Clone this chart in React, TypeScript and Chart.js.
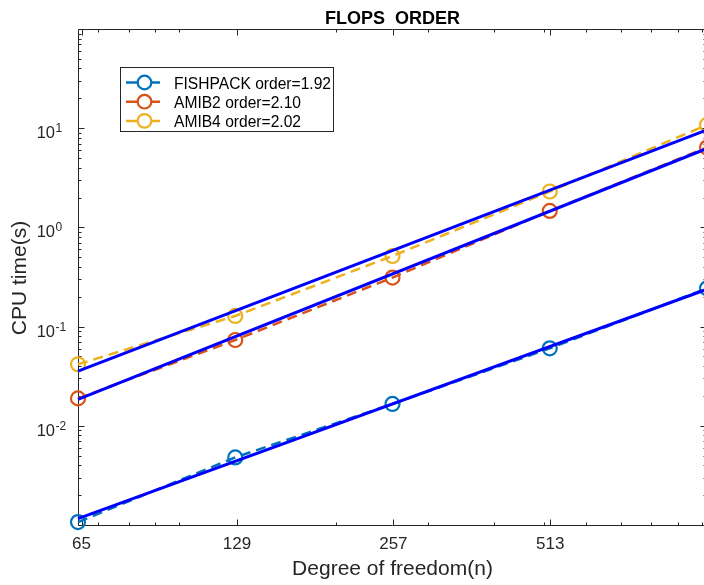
import React, { useEffect, useRef } from 'react';
import { Chart, registerables } from 'chart.js';

Chart.register(...registerables);

// ---- data ----
const nValues = [64, 128, 256, 512, 1024];
const fishpackTimes = [0.00107, 0.0048, 0.0166, 0.0604, 0.243];
const amib2Times = [0.0189, 0.0733, 0.312, 1.466, 6.38];
const amib4Times = [0.0417, 0.128, 0.515, 2.3, 10.8];

const fitN = [64, 1024];
const fishpackFit = [0.00116, 0.238];
const amib2Fit = [0.01845, 6.24];
const amib4Fit = [0.0356, 9.64];

const seriesNames = ['FISHPACK order=1.92', 'AMIB2 order=2.10', 'AMIB4 order=2.02'];
const seriesColors = ['#0072BD', '#D95319', '#EDB120'];
const fitColor = '#0000FF';

const xTickValues = [65, 129, 257, 513];
const xTickLabels = ['65', '129', '257', '513'];
const xMinorTicks = [70, 80, 90, 100, 200, 300, 400, 500, 600, 700, 800, 900, 1000];
const yMajorExponents = [-3, -2, -1, 0, 1, 2];
const yLabelExponents = [-2, -1, 0, 1];
const yLabelTexts = ['-2', '-1', '0', '1'];

const titleText = 'FLOPS  ORDER';
const xTitle = 'Degree of freedom(n)';
const yTitle = 'CPU time(s)';

const FONT = '"Liberation Sans", Arial, Helvetica, sans-serif';
const AXIS_COLOR = '#262626';

const CANVAS_W = 720;
const CANVAS_H = 585;

const toPoints = (xs: number[], ys: number[]) => xs.map((x, i) => ({ x, y: ys[i] }));

const matlabPlugin = {
  id: 'matlabAxes',
  beforeDatasetsDraw(chart: any) {
    const { ctx, chartArea: a, scales } = chart;
    const xs = scales.x;
    const ys = scales.y;
    const L = Math.floor(a.left) + 0.5;
    const R = Math.floor(a.right) - 0.5;
    const T = Math.floor(a.top) + 0.5;
    const B = Math.floor(a.bottom) + 0.5;
    ctx.save();
    ctx.strokeStyle = AXIS_COLOR;
    ctx.lineWidth = 1;
    ctx.beginPath();
    ctx.moveTo(L, T);
    ctx.lineTo(R, T);
    ctx.lineTo(R, B);
    ctx.lineTo(L, B);
    ctx.closePath();
    ctx.stroke();

    const vTick = (px: number, len: number) => {
      const p = Math.round(px) + 0.5;
      ctx.moveTo(p, B);
      ctx.lineTo(p, B - len);
      ctx.moveTo(p, T);
      ctx.lineTo(p, T + len);
    };
    const hTick = (py: number, len: number) => {
      const p = Math.round(py) + 0.5;
      ctx.moveTo(L, p);
      ctx.lineTo(L + len, p);
      ctx.moveTo(R, p);
      ctx.lineTo(R - len, p);
    };
    ctx.beginPath();
    xTickValues.forEach((v) => {
      if (v >= xs.min && v <= xs.max) vTick(xs.getPixelForValue(v), 6);
    });
    xMinorTicks.forEach((v) => vTick(xs.getPixelForValue(v), 3));
    yMajorExponents.forEach((e) => hTick(ys.getPixelForValue(Math.pow(10, e)), 6));
    for (let e = -3; e <= 1; e++) {
      for (let m = 2; m <= 9; m++) {
        hTick(ys.getPixelForValue(m * Math.pow(10, e)), 3);
      }
    }
    ctx.stroke();
    ctx.restore();
  },
  afterDraw(chart: any) {
    const { ctx, chartArea: a, scales } = chart;
    const xs = scales.x;
    const ys = scales.y;
    ctx.save();
    ctx.fillStyle = AXIS_COLOR;

    // x tick labels
    ctx.font = `17px ${FONT}`;
    ctx.textAlign = 'center';
    ctx.textBaseline = 'alphabetic';
    xTickValues.forEach((v, i) => {
      ctx.fillText(xTickLabels[i], xs.getPixelForValue(v), 549);
    });

    // y tick labels 10^e
    yLabelExponents.forEach((e, i) => {
      const py = ys.getPixelForValue(Math.pow(10, e));
      ctx.font = `16.5px ${FONT}`;
      ctx.textAlign = 'right';
      ctx.fillText('10', 55, py + 10);
      ctx.font = `12px ${FONT}`;
      ctx.textAlign = 'left';
      ctx.fillText(yLabelTexts[i], 55.5, py + 4);
    });

    // axis titles
    const cx = (a.left + a.right) / 2;
    ctx.font = `21px ${FONT}`;
    ctx.textAlign = 'center';
    ctx.fillText(xTitle, cx, 575);
    ctx.save();
    ctx.translate(26, (a.top + a.bottom) / 2 + 1);
    ctx.rotate(-Math.PI / 2);
    ctx.fillText(yTitle, 0, 0);
    ctx.restore();

    // title
    ctx.fillStyle = '#000000';
    ctx.font = `bold 18px ${FONT}`;
    ctx.fillText(titleText, cx, 23.5);

    // legend
    const bx = 120.5, by = 67.5, bw = 213, bh = 64;
    ctx.fillStyle = '#ffffff';
    ctx.fillRect(bx, by, bw, bh);
    ctx.strokeStyle = AXIS_COLOR;
    ctx.lineWidth = 1;
    ctx.strokeRect(bx, by, bw, bh);
    ctx.font = `15.6px ${FONT}`;
    ctx.textAlign = 'left';
    seriesNames.forEach((name, i) => {
      const cy = 82.5 + i * 19.2;
      ctx.strokeStyle = seriesColors[i];
      ctx.lineWidth = 2.5;
      ctx.setLineDash([]);
      ctx.beginPath();
      ctx.moveTo(126, cy);
      ctx.lineTo(137, cy);
      ctx.moveTo(152, cy);
      ctx.lineTo(160, cy);
      ctx.stroke();
      ctx.lineWidth = 2.2;
      ctx.beginPath();
      ctx.arc(144.5, cy, 6.8, 0, Math.PI * 2);
      ctx.stroke();
      ctx.fillStyle = '#000000';
      ctx.fillText(name, 174, cy + 6);
    });
    ctx.restore();
  },
};

export default function App() {
  const canvasRef = useRef<HTMLCanvasElement | null>(null);

  useEffect(() => {
    if (!canvasRef.current) return;
    const dataSeries = [fishpackTimes, amib2Times, amib4Times];
    const fitSeries = [fishpackFit, amib2Fit, amib4Fit];
    const datasets: any[] = [];
    fitSeries.forEach((f, i) => {
      datasets.push({
        label: seriesNames[i] + ' fit',
        data: toPoints(fitN, f),
        borderColor: fitColor,
        borderWidth: 3,
        pointRadius: 0,
        fill: false,
        tension: 0,
        clip: false,
        order: 0,
      });
    });
    dataSeries.forEach((d, i) => {
      datasets.push({
        label: seriesNames[i],
        data: toPoints(nValues, d),
        borderColor: seriesColors[i],
        borderWidth: 2.5,
        borderDash: [10, 6],
        pointStyle: 'circle',
        pointRadius: 7,
        pointBorderWidth: 2.2,
        pointBorderColor: seriesColors[i],
        pointBackgroundColor: 'rgba(0,0,0,0)',
        fill: false,
        tension: 0,
        clip: false,
        order: 1,
      });
    });

    const chart = new Chart(canvasRef.current, {
      type: 'line',
      data: { datasets },
      options: {
        animation: false,
        responsive: false,
        devicePixelRatio: 1,
        layout: { padding: { left: 78, top: 29, right: CANVAS_W - 707, bottom: CANVAS_H - 525 } },
        plugins: {
          legend: { display: false },
          tooltip: { enabled: false },
          title: { display: false },
        },
        scales: {
          x: {
            type: 'logarithmic',
            min: 64,
            max: 1024,
            grid: { display: false },
            border: { display: false },
            ticks: { display: false },
            afterFit: (s: any) => { s.height = 0; },
          },
          y: {
            type: 'logarithmic',
            min: 0.001,
            max: 100,
            grid: { display: false },
            border: { display: false },
            ticks: { display: false },
            afterFit: (s: any) => { s.width = 0; },
          },
        },
      } as any,
      plugins: [matlabPlugin],
    });
    return () => chart.destroy();
  }, []);

  return (
    <div style={{ position: 'fixed', left: 0, top: 0, width: 704, height: 585, overflow: 'hidden', background: '#fff' }}>
      <canvas ref={canvasRef} width={CANVAS_W} height={CANVAS_H} style={{ display: 'block', width: CANVAS_W, height: CANVAS_H }} />
    </div>
  );
}
